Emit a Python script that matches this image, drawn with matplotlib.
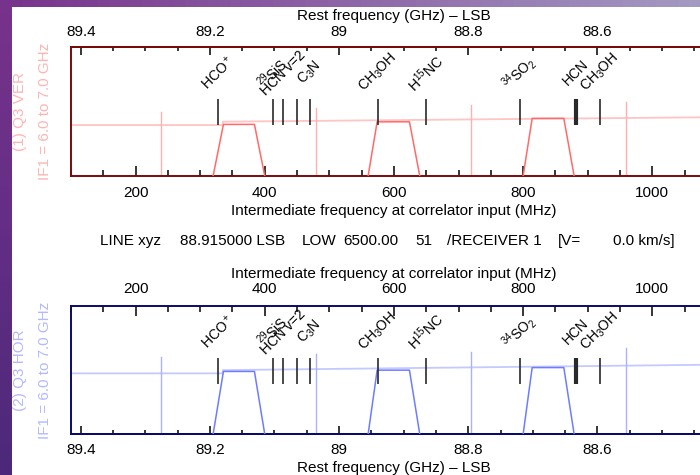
import numpy as np
import matplotlib
matplotlib.use("Agg")
import matplotlib.pyplot as plt
from matplotlib.ticker import MultipleLocator, FixedLocator, FixedFormatter

plt.rcParams['font.family'] = ['Liberation Sans', 'DejaVu Sans']
plt.rcParams['mathtext.fontset'] = 'custom'
plt.rcParams['mathtext.rm'] = 'Liberation Sans'
plt.rcParams['mathtext.it'] = 'Liberation Sans:italic'
plt.rcParams['mathtext.bf'] = 'Liberation Sans:bold'

# ---------------- data ----------------
LO_GHZ = 89.515          # LSB: rest = LO - IF/1000
IF_RANGE = (100, 1100)

line_if = [327, 412, 428.7, 450.3, 470, 575, 649, 794.5, 881.7, 918.8]
line_labels = ["HCO$^+$", "$^{29}$SiS", "HCN v=2", "", "C$_3$N", "CH$_3$OH",
               "H$^{15}$NC", "$^{34}$SO$_2$", "HCN", "CH$_3$OH"]
line_widths = [1.2, 1.2, 1.2, 1.2, 1.2, 1.2, 1.2, 1.2, 3.0, 1.2]
line_bottom = 0.395
line_top = 0.595

# passband trapezoids (IF, MHz)
band_edges_if = [[320, 336, 384, 400], [560, 574, 624, 640], [800, 814, 863, 879]]
band_tops_p1 = [0.40, 0.42, 0.447]
band_tops_p2 = [0.49, 0.50, 0.52]

# reference (step) line
ref_if = [100, 335, 335, 1100]
ref_lev_p1 = [0.395, 0.395, 0.421, 0.456]
ref_lev_p2 = [0.475, 0.475, 0.500, 0.543]

# vertical markers
vmark_if = [240, 480, 720, 960]
vmark_top_p1 = [0.496, 0.527, 0.55, 0.574]
vmark_top_p2 = [0.605, 0.625, 0.645, 0.675]

rest_ticks = [89.4, 89.2, 89.0, 88.8, 88.6]
rest_tick_labels = ["89.4", "89.2", "89", "88.8", "88.6"]

W, H = 700, 475
fig = plt.figure(figsize=(W / 100, H / 100), dpi=100)

# ---------- background ----------
bg = fig.add_axes([0, 0, 1, 1])
bg.set_axis_off()
tl = np.array([0.47, 0.20, 0.55]); tr = np.array([0.64, 0.60, 0.76])
bl = np.array([0.30, 0.16, 0.48]); br = np.array([0.45, 0.40, 0.65])
u = np.linspace(0, 1, 64)[None, :, None]
v = np.linspace(0, 1, 64)[:, None, None]
img = (1 - v) * ((1 - u) * tl + u * tr) + v * ((1 - u) * bl + u * br)
bg.imshow(img, extent=[0, 1, 0, 1], aspect='auto', transform=bg.transAxes, zorder=0)
bg.add_patch(plt.Rectangle((12 / W, 0), 1, 1 - 7 / H, transform=bg.transAxes,
                           facecolor='white', edgecolor='none', zorder=1))
bg.set_xlim(0, 1); bg.set_ylim(0, 1)


def to_rest(x):
    return LO_GHZ - np.asarray(x) / 1000.0


def to_if(f):
    return (LO_GHZ - np.asarray(f)) * 1000.0


def fx(px):
    return px / W


def fy(py):
    return 1 - py / H


ax_left = fx(71)
ax_width = (1000 * 0.6459) / W

FS = 11


def draw_panel(ax, frame_col, band_col, ref_col, vcol, band_tops, ref_lev, vtops, top_is_rest):
    ax.set_xlim(*IF_RANGE)
    ax.set_ylim(0, 1)
    ax.set_yticks([])
    for s in ax.spines.values():
        s.set_color(frame_col)
        s.set_linewidth(1.4)
    # reference line
    ax.plot(ref_if, ref_lev, color=ref_col, lw=1.3, zorder=2)
    # vertical markers
    for xi, tp in zip(vmark_if, vtops):
        ax.plot([xi, xi], [0, tp], color=vcol, lw=1.0, zorder=2)
    # passbands
    for edges, tp in zip(band_edges_if, band_tops):
        ax.plot(edges, [0, tp, tp, 0], color=band_col, lw=1.1, zorder=3)
    # molecular lines
    for xi, lab, lw in zip(line_if, line_labels, line_widths):
        ax.plot([xi, xi], [line_bottom, line_top], color='#2a2a2a', lw=lw, zorder=4,
                solid_capstyle='butt')
        if lab:
            ax.text(xi, 0.80, lab, rotation=45, rotation_mode='anchor', ha='center',
                    va='center', fontsize=10, color='black', zorder=5)

    ax.xaxis.set_major_locator(MultipleLocator(200))
    ax.xaxis.set_minor_locator(MultipleLocator(50))
    sec_loc = 'top' if top_is_rest else 'bottom'
    sec = ax.secondary_xaxis(sec_loc, functions=(to_rest, to_if))
    sec.xaxis.set_major_locator(FixedLocator(rest_ticks))
    sec.xaxis.set_major_formatter(FixedFormatter(rest_tick_labels))
    sec.xaxis.set_minor_locator(MultipleLocator(0.05))
    sec.tick_params(axis='x', which='major', direction='in', length=6, width=1.1,
                    labelsize=FS, pad=6, color='black')
    sec.tick_params(axis='x', which='minor', direction='in', length=3, width=1.1,
                    color='black')
    for s in sec.spines.values():
        s.set_color(frame_col)
        s.set_linewidth(1.4)
    sec.set_xlabel("Rest frequency (GHz) \u2013 LSB", fontsize=FS, labelpad=3)

    if top_is_rest:
        ax.tick_params(axis='x', which='both', top=False, bottom=True, labeltop=False,
                       labelbottom=True, direction='in')
    else:
        ax.tick_params(axis='x', which='both', top=True, bottom=False, labeltop=True,
                       labelbottom=False, direction='in')
        ax.xaxis.set_label_position('top')
    ax.tick_params(axis='x', which='major', length=7, width=1.1, labelsize=FS, pad=7,
                   color='black')
    ax.tick_params(axis='x', which='minor', length=4, width=1.1, color='black')
    ax.set_xlabel("Intermediate frequency at correlator input (MHz)", fontsize=FS,
                  labelpad=3)


# top panel
ax1 = fig.add_axes([ax_left, fy(176), ax_width, 129 / H])
draw_panel(ax1, '#7a0a0a', '#ff6a6a', '#ffc4c4', '#ffb0b0',
           band_tops_p1, ref_lev_p1, vmark_top_p1, True)

# bottom panel
ax2 = fig.add_axes([ax_left, fy(434.3), ax_width, 128.3 / H])
draw_panel(ax2, '#0a0a6a', '#6e7cff', '#c4caff', '#aab2ff',
           band_tops_p2, ref_lev_p2, vmark_top_p2, False)

# left side labels
fig.text(fx(20), fy(111.5), "(1) Q3 VER", rotation=90, ha='center', va='center',
         fontsize=FS, color='#ffb4b4')
fig.text(fx(45), fy(111.5), "IF1 = 6.0 to 7.0 GHz", rotation=90, ha='center',
         va='center', fontsize=FS, color='#ffb4b4')
fig.text(fx(20), fy(370), "(2) Q3 HOR", rotation=90, ha='center', va='center',
         fontsize=FS, color='#b4b8ff')
fig.text(fx(45), fy(370), "IF1 = 6.0 to 7.0 GHz", rotation=90, ha='center',
         va='center', fontsize=FS, color='#b4b8ff')

# line info text
info_parts = [(100, "LINE xyz"), (180, "88.915000 LSB"), (302, "LOW"),
              (343, "6500.00"), (415.7, "51"), (446.7, "/RECEIVER 1"),
              (558, "[V="), (613, "0.0 km/s]")]
for px, s in info_parts:
    fig.text(fx(px), fy(241), s, ha='left', va='center', fontsize=FS, color='black')

fig.savefig("out.png", dpi=100)
